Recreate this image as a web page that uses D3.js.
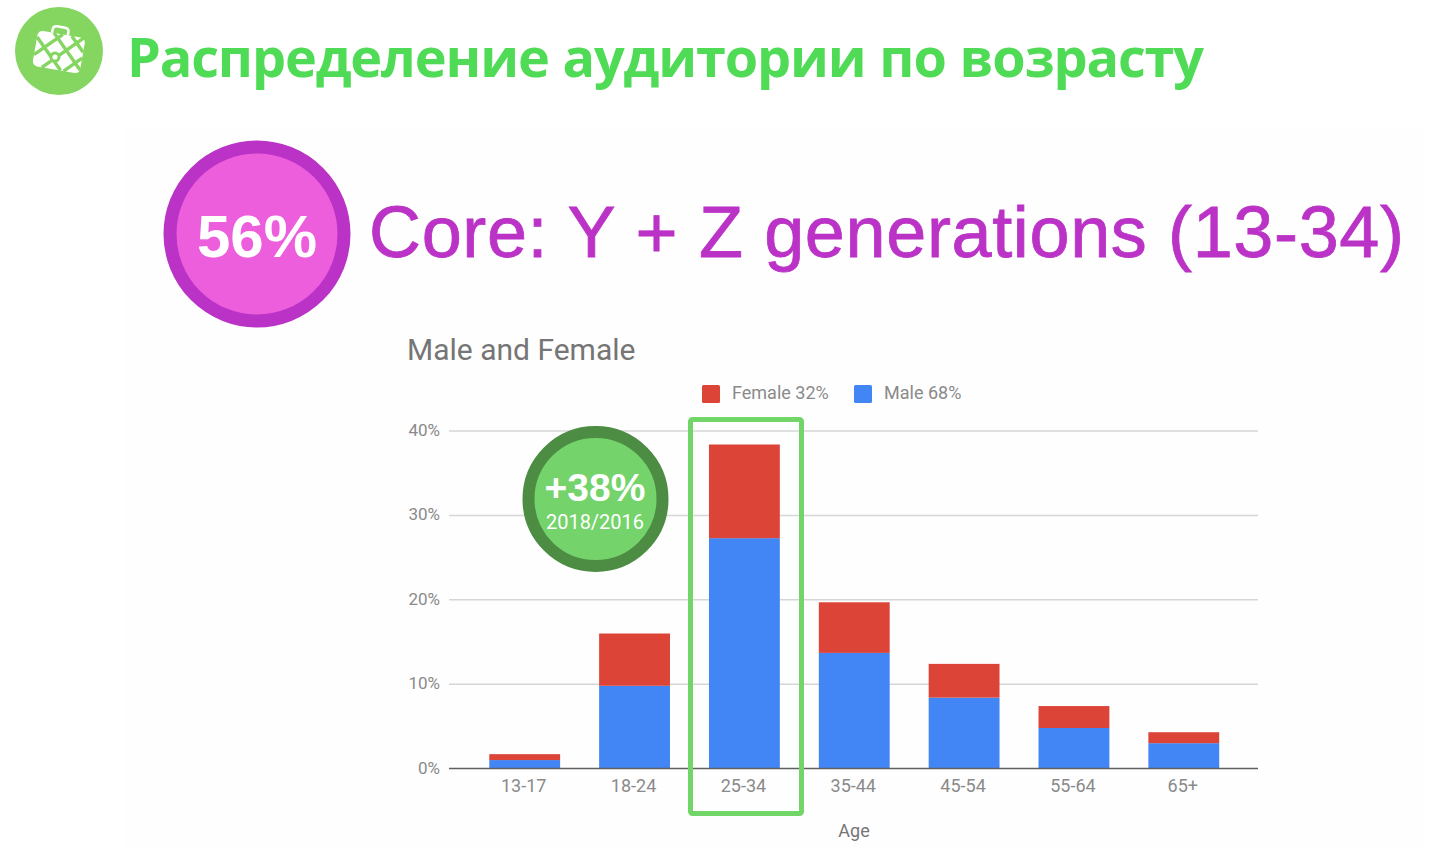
<!DOCTYPE html>
<html>
<head>
<meta charset="utf-8">
<script src="https://cdn.jsdelivr.net/npm/d3@7"></script>
<style>
  html, body { margin: 0; padding: 0; background: #fff; overflow: hidden; }
  svg { display: block; }
</style>
</head>
<body>
<div id="chart"></div>
<script>
const categories = ['13-17', '18-24', '25-34', '35-44', '45-54', '55-64', '65+'];
const maleValues = [1.0, 9.8, 27.3, 13.7, 8.4, 4.8, 3.0];
const femaleValues = [0.7, 6.2, 11.1, 6.0, 4.0, 2.6, 1.3];
const yTicks = [0, 10, 20, 30, 40];
const seriesNames = ['Male', 'Female'];
const seriesColors = ['#4285f4', '#db4437'];
const legendLabels = ['Female 32%', 'Male 68%'];

const width = 1442, height = 850;

const svg = d3.select('#chart')
  .append('svg')
  .attr('width', width)
  .attr('height', height);

// faint slide backdrop behind the chart
svg.append('rect')
  .attr('x', 125).attr('y', 130)
  .attr('width', 1300).attr('height', 720)
  .attr('fill', '#fefefe');

// header logo
const logo = svg.append('g').attr('transform', 'translate(59,51)');
logo.append('circle').attr('r', 44).attr('fill', '#84d661');
const bag = logo.append('g').attr('transform', 'rotate(10)');
bag.append('path')
  .attr('d', 'M-10,-17 L-10,-20 Q-10,-24 -6,-24 L2,-24 Q6,-24 6,-20 L6,-17')
  .attr('fill', 'none').attr('stroke', '#fff').attr('stroke-width', 2.5);
bag.append('rect')
  .attr('x', -24).attr('y', -17).attr('width', 48).attr('height', 36).attr('rx', 5)
  .attr('fill', '#fff');
bag.append('path')
  .attr('d', 'M-24,-10 L5,19 M-8,-17 L24,15 M10,-17 L24,-3 M-24,8 L1,-17 M-14,19 L22,-17 M8,19 L24,3')
  .attr('stroke', '#84d661').attr('stroke-width', 3.4).attr('fill', 'none');
logo.append('circle').attr('cx', -4).attr('cy', 6).attr('r', 5.5).attr('fill', '#84d661');
logo.append('circle').attr('cx', -4).attr('cy', 6).attr('r', 2.6).attr('fill', '#fff');

svg.append('text')
  .attr('x', 127).attr('y', 77)
  .attr('font-family', '"Open Sans", sans-serif')
  .attr('font-weight', 700)
  .attr('font-size', 54)
  .attr('word-spacing', 1)
  .attr('fill', '#4fdb55')
  .attr('textLength', 1077)
  .text('Распределение аудитории по возрасту');

// 56% badge and headline
svg.append('circle')
  .attr('cx', 257).attr('cy', 234).attr('r', 87)
  .attr('fill', '#ed5edd')
  .attr('stroke', '#bb32c6').attr('stroke-width', 13);
svg.append('text')
  .attr('x', 257).attr('y', 257)
  .attr('text-anchor', 'middle')
  .attr('font-family', '"Liberation Sans", sans-serif')
  .attr('font-weight', 700)
  .attr('font-size', 60)
  .attr('fill', '#fff')
  .text('56%');
svg.append('text')
  .attr('x', 369).attr('y', 257)
  .attr('font-family', '"Liberation Sans", sans-serif')
  .attr('font-size', 72)
  .attr('fill', '#bb32c6')
  .attr('stroke', '#bb32c6').attr('stroke-width', 0.8)
  .attr('textLength', 1035)
  .text('Core: Y + Z generations (13-34)');

// chart
const x = d3.scaleBand()
  .domain(categories)
  .range([469.5, 1239])
  .paddingInner(0.355)
  .paddingOuter(0.18);

const y = d3.scaleLinear()
  .domain([0, 40])
  .range([768.5, 431]);

svg.append('text')
  .attr('x', 407).attr('y', 360)
  .attr('font-family', 'Roboto, sans-serif')
  .attr('font-size', 30)
  .attr('fill', '#757575')
  .text('Male and Female');

// gridlines
svg.append('g')
  .selectAll('line')
  .data(yTicks.filter(d => d > 0))
  .enter()
  .append('line')
  .attr('x1', 449).attr('x2', 1258)
  .attr('y1', d => y(d)).attr('y2', d => y(d))
  .attr('stroke', '#d6d6d6').attr('stroke-width', 1.5);

// y labels
svg.append('g')
  .selectAll('text')
  .data(yTicks)
  .enter()
  .append('text')
  .attr('x', 440)
  .attr('y', d => y(d) + 5)
  .attr('text-anchor', 'end')
  .attr('font-family', 'Roboto, sans-serif')
  .attr('font-size', 17)
  .attr('fill', '#8a8a8a')
  .text(d => d + '%');

// stacked bars
const rows = categories.map((c, i) => ({ category: c, Male: maleValues[i], Female: femaleValues[i] }));
const stack = d3.stack().keys(seriesNames)(rows);

svg.append('g')
  .selectAll('g')
  .data(stack)
  .enter()
  .append('g')
  .attr('fill', (d, i) => seriesColors[i])
  .selectAll('rect')
  .data(d => d)
  .enter()
  .append('rect')
  .attr('x', d => x(d.data.category))
  .attr('width', x.bandwidth())
  .attr('y', d => y(d[1]))
  .attr('height', d => y(d[0]) - y(d[1]));

// baseline
svg.append('line')
  .attr('x1', 449).attr('x2', 1258)
  .attr('y1', y(0)).attr('y2', y(0))
  .attr('stroke', '#5f5f5f').attr('stroke-width', 1.5);

// x labels
svg.append('g')
  .selectAll('text')
  .data(categories)
  .enter()
  .append('text')
  .attr('x', d => x(d) + x.bandwidth() / 2 - 1)
  .attr('y', 792)
  .attr('text-anchor', 'middle')
  .attr('font-family', 'Roboto, sans-serif')
  .attr('font-size', 18)
  .attr('fill', '#8a8a8a')
  .text(d => d);

svg.append('text')
  .attr('x', 854).attr('y', 837)
  .attr('text-anchor', 'middle')
  .attr('font-family', 'Roboto, sans-serif')
  .attr('font-size', 18)
  .attr('fill', '#757575')
  .text('Age');

// legend
const legendX = [702, 854];
const legend = svg.append('g')
  .selectAll('g')
  .data(legendLabels)
  .enter()
  .append('g')
  .attr('transform', (d, i) => `translate(${legendX[i]},385)`);
legend.append('rect')
  .attr('width', 18).attr('height', 18).attr('rx', 1.5)
  .attr('fill', (d, i) => seriesColors[1 - i]);
legend.append('text')
  .attr('x', 30).attr('y', 14)
  .attr('font-family', 'Roboto, sans-serif')
  .attr('font-size', 18)
  .attr('fill', '#8a8a8a')
  .text(d => d);

// highlight around 25-34
svg.append('rect')
  .attr('x', 690.5).attr('y', 419.5)
  .attr('width', 111).attr('height', 394)
  .attr('rx', 2)
  .attr('fill', 'none')
  .attr('stroke', '#72d568').attr('stroke-width', 5);

// +38% badge
svg.append('circle')
  .attr('cx', 595.5).attr('cy', 499).attr('r', 67)
  .attr('fill', '#74d36a')
  .attr('stroke', '#4c8c43').attr('stroke-width', 12);
svg.append('text')
  .attr('x', 595).attr('y', 501)
  .attr('text-anchor', 'middle')
  .attr('font-family', '"Liberation Sans", sans-serif')
  .attr('font-weight', 700)
  .attr('font-size', 39)
  .attr('fill', '#fff')
  .text('+38%');
svg.append('text')
  .attr('x', 595).attr('y', 529)
  .attr('text-anchor', 'middle')
  .attr('font-family', 'Roboto, sans-serif')
  .attr('font-size', 20)
  .attr('fill', '#fff')
  .text('2018/2016');
</script>
</body>
</html>
